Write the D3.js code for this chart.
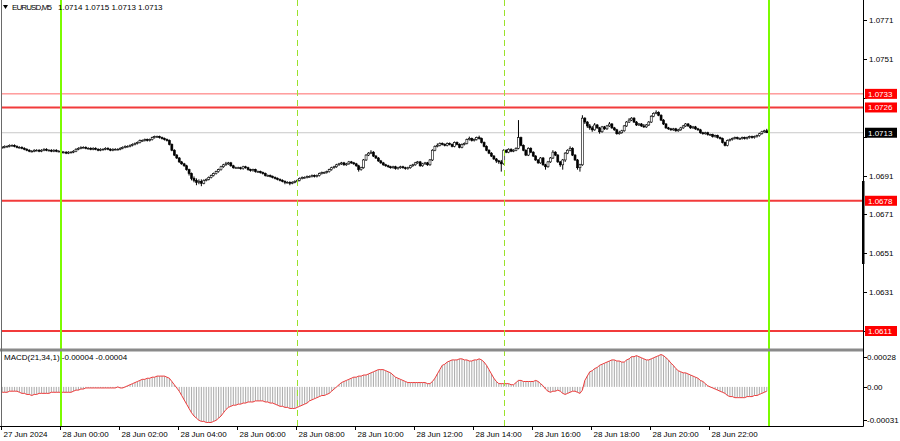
<!DOCTYPE html>
<html><head><meta charset="utf-8">
<script src="https://cdn.jsdelivr.net/npm/d3@7"></script>
<style>html,body{margin:0;padding:0;background:#fff;overflow:hidden}</style>
</head><body><svg id="c" width="900" height="441"></svg>
<script>
// ---------------- DATA ----------------
const symbolTitle = "EURUSD,M5";
const lastOHLC = ["1.0714", "1.0715", "1.0713", "1.0713"];
const macdTitle = "MACD(21,34,1) -0.00004 -0.00004";
const firstOpen = 1.07055;
// M5 candles from 27 Jun 22:00 to 28 Jun 23:55 (open of each bar = previous close)
const closes = [
1.07055,1.07060,1.07060,1.07065,1.07065,1.07060,1.07055,1.07055,1.07050,1.07045,1.07040,1.07035,
1.07035,1.07040,1.07040,1.07035,1.07040,1.07045,1.07040,1.07040,1.07035,1.07040,1.07035,1.07035,
1.07030,1.07030,1.07025,1.07030,1.07030,1.07035,1.07045,1.07050,1.07055,1.07055,1.07050,1.07050,
1.07045,1.07050,1.07045,1.07040,1.07045,1.07045,1.07050,1.07045,1.07040,1.07045,1.07045,1.07045,
1.07050,1.07055,1.07060,1.07060,1.07065,1.07070,1.07075,1.07080,1.07090,1.07090,1.07095,1.07090,
1.07095,1.07105,1.07110,1.07110,1.07105,1.07100,1.07095,1.07090,1.07070,1.07040,1.07015,1.07000,
1.06980,1.06970,1.06960,1.06940,1.06920,1.06895,1.06885,1.06875,1.06880,1.06870,1.06885,1.06890,
1.06900,1.06910,1.06920,1.06930,1.06940,1.06955,1.06965,1.06970,1.06975,1.06960,1.06950,1.06950,
1.06950,1.06945,1.06955,1.06950,1.06940,1.06935,1.06940,1.06930,1.06930,1.06925,1.06920,1.06910,
1.06910,1.06905,1.06900,1.06895,1.06890,1.06885,1.06880,1.06875,1.06875,1.06870,1.06875,1.06880,
1.06885,1.06895,1.06900,1.06900,1.06905,1.06905,1.06910,1.06905,1.06910,1.06920,1.06925,1.06925,
1.06930,1.06940,1.06950,1.06955,1.06965,1.06970,1.06975,1.06965,1.06970,1.06980,1.06975,1.06970,
1.06960,1.06940,1.06950,1.06990,1.07015,1.07025,1.07030,1.07010,1.07000,1.06985,1.06975,1.06965,
1.06960,1.06955,1.06950,1.06955,1.06945,1.06950,1.06955,1.06950,1.06945,1.06950,1.06960,1.06965,
1.06975,1.06980,1.06960,1.06970,1.06975,1.06965,1.06990,1.07040,1.07060,1.07065,1.07075,1.07070,
1.07065,1.07075,1.07070,1.07060,1.07080,1.07070,1.07055,1.07070,1.07075,1.07095,1.07100,1.07090,
1.07095,1.07105,1.07100,1.07080,1.07060,1.07040,1.07025,1.07010,1.06995,1.06985,1.06980,1.06970,
1.07040,1.07030,1.07045,1.07035,1.07040,1.07050,1.07105,1.07065,1.07040,1.07015,1.07050,1.07030,
1.07010,1.06990,1.06975,1.07000,1.06965,1.06955,1.06980,1.07000,1.07030,1.07015,1.06980,1.06965,
1.06990,1.07025,1.07040,1.07050,1.07015,1.06990,1.06950,1.06965,1.07205,1.07185,1.07165,1.07155,
1.07145,1.07170,1.07155,1.07135,1.07160,1.07150,1.07165,1.07175,1.07155,1.07145,1.07125,1.07130,
1.07140,1.07165,1.07185,1.07195,1.07205,1.07185,1.07170,1.07175,1.07165,1.07160,1.07170,1.07185,
1.07215,1.07230,1.07235,1.07220,1.07195,1.07175,1.07155,1.07150,1.07145,1.07150,1.07140,1.07145,
1.07155,1.07165,1.07175,1.07165,1.07155,1.07160,1.07150,1.07145,1.07130,1.07125,1.07130,1.07120,
1.07120,1.07110,1.07115,1.07105,1.07100,1.07080,1.07065,1.07090,1.07095,1.07100,1.07105,1.07100,
1.07100,1.07105,1.07100,1.07105,1.07110,1.07105,1.07110,1.07115,1.07125,1.07135,1.07140,1.07130];
const highs = [
1.07060,1.07065,1.07065,1.07070,1.07070,1.07070,1.07065,1.07060,1.07060,1.07055,1.07050,1.07045,
1.07040,1.07045,1.07045,1.07045,1.07045,1.07050,1.07050,1.07045,1.07045,1.07045,1.07045,1.07040,
1.07040,1.07035,1.07035,1.07035,1.07035,1.07040,1.07050,1.07055,1.07060,1.07060,1.07060,1.07055,
1.07055,1.07055,1.07055,1.07050,1.07050,1.07050,1.07055,1.07055,1.07050,1.07050,1.07050,1.07050,
1.07055,1.07060,1.07065,1.07065,1.07070,1.07075,1.07080,1.07085,1.07095,1.07095,1.07100,1.07100,
1.07100,1.07110,1.07115,1.07115,1.07115,1.07110,1.07105,1.07100,1.07095,1.07075,1.07045,1.07020,
1.07005,1.06985,1.06975,1.06965,1.06945,1.06925,1.06905,1.06895,1.06890,1.06890,1.06890,1.06895,
1.06905,1.06915,1.06925,1.06935,1.06945,1.06960,1.06970,1.06980,1.06980,1.06980,1.06965,1.06955,
1.06955,1.06955,1.06960,1.06960,1.06955,1.06945,1.06945,1.06945,1.06935,1.06935,1.06930,1.06925,
1.06915,1.06915,1.06910,1.06905,1.06900,1.06895,1.06890,1.06885,1.06880,1.06880,1.06880,1.06885,
1.06890,1.06900,1.06905,1.06905,1.06910,1.06910,1.06915,1.06915,1.06915,1.06925,1.06930,1.06930,
1.06935,1.06945,1.06955,1.06960,1.06970,1.06975,1.06980,1.06980,1.06975,1.06985,1.06985,1.06980,
1.06975,1.06965,1.06955,1.06995,1.07020,1.07030,1.07040,1.07035,1.07015,1.07005,1.06990,1.06980,
1.06970,1.06965,1.06960,1.06960,1.06960,1.06955,1.06960,1.06960,1.06955,1.06955,1.06965,1.06970,
1.06980,1.06985,1.06985,1.06975,1.06980,1.06980,1.06995,1.07045,1.07065,1.07075,1.07080,1.07080,
1.07075,1.07080,1.07080,1.07075,1.07085,1.07085,1.07075,1.07075,1.07080,1.07100,1.07110,1.07105,
1.07100,1.07110,1.07115,1.07105,1.07085,1.07065,1.07045,1.07030,1.07015,1.07000,1.06990,1.06990,
1.07045,1.07045,1.07050,1.07050,1.07045,1.07055,1.07195,1.07110,1.07070,1.07045,1.07055,1.07055,
1.07035,1.07015,1.06995,1.07005,1.07005,1.06970,1.06985,1.07005,1.07040,1.07035,1.07020,1.06985,
1.06995,1.07030,1.07045,1.07060,1.07055,1.07020,1.06995,1.06970,1.07220,1.07210,1.07190,1.07175,
1.07165,1.07180,1.07175,1.07160,1.07165,1.07165,1.07170,1.07185,1.07180,1.07160,1.07150,1.07140,
1.07145,1.07170,1.07190,1.07205,1.07210,1.07210,1.07190,1.07180,1.07180,1.07175,1.07175,1.07190,
1.07220,1.07235,1.07245,1.07240,1.07225,1.07200,1.07180,1.07160,1.07155,1.07155,1.07155,1.07150,
1.07160,1.07170,1.07180,1.07180,1.07170,1.07165,1.07165,1.07155,1.07150,1.07135,1.07135,1.07135,
1.07125,1.07125,1.07120,1.07120,1.07110,1.07105,1.07085,1.07095,1.07100,1.07105,1.07110,1.07110,
1.07105,1.07110,1.07110,1.07110,1.07115,1.07115,1.07115,1.07120,1.07130,1.07140,1.07145,1.07150];
const lows = [
1.07050,1.07050,1.07055,1.07055,1.07060,1.07055,1.07050,1.07050,1.07045,1.07040,1.07035,1.07030,
1.07030,1.07030,1.07035,1.07030,1.07030,1.07035,1.07035,1.07035,1.07030,1.07030,1.07030,1.07030,
1.07025,1.07025,1.07020,1.07020,1.07025,1.07025,1.07030,1.07040,1.07045,1.07050,1.07045,1.07045,
1.07040,1.07040,1.07040,1.07035,1.07035,1.07040,1.07040,1.07040,1.07035,1.07035,1.07040,1.07040,
1.07040,1.07045,1.07050,1.07055,1.07055,1.07060,1.07065,1.07070,1.07075,1.07085,1.07085,1.07085,
1.07085,1.07090,1.07100,1.07105,1.07100,1.07095,1.07090,1.07085,1.07065,1.07035,1.07010,1.06995,
1.06975,1.06965,1.06955,1.06935,1.06910,1.06885,1.06875,1.06860,1.06865,1.06855,1.06865,1.06880,
1.06885,1.06895,1.06905,1.06915,1.06925,1.06935,1.06950,1.06960,1.06965,1.06955,1.06945,1.06945,
1.06945,1.06940,1.06940,1.06945,1.06935,1.06930,1.06930,1.06925,1.06925,1.06920,1.06915,1.06905,
1.06905,1.06900,1.06895,1.06890,1.06885,1.06880,1.06875,1.06865,1.06870,1.06860,1.06865,1.06870,
1.06875,1.06880,1.06890,1.06895,1.06895,1.06900,1.06900,1.06900,1.06900,1.06905,1.06915,1.06920,
1.06920,1.06925,1.06935,1.06945,1.06950,1.06960,1.06965,1.06960,1.06960,1.06965,1.06970,1.06965,
1.06955,1.06930,1.06935,1.06945,1.06985,1.07010,1.07020,1.07005,1.06995,1.06980,1.06970,1.06960,
1.06955,1.06950,1.06945,1.06945,1.06940,1.06940,1.06945,1.06945,1.06940,1.06940,1.06945,1.06955,
1.06960,1.06970,1.06955,1.06955,1.06965,1.06960,1.06960,1.06985,1.07035,1.07055,1.07060,1.07065,
1.07060,1.07060,1.07065,1.07055,1.07055,1.07065,1.07050,1.07050,1.07065,1.07070,1.07090,1.07085,
1.07085,1.07090,1.07095,1.07075,1.07055,1.07035,1.07020,1.07005,1.06990,1.06975,1.06970,1.06930,
1.06965,1.07025,1.07025,1.07030,1.07030,1.07035,1.07045,1.07060,1.07035,1.07010,1.07010,1.07025,
1.07005,1.06985,1.06970,1.06970,1.06960,1.06940,1.06950,1.06975,1.06995,1.07010,1.06975,1.06955,
1.06940,1.06980,1.07020,1.07035,1.07010,1.06985,1.06940,1.06930,1.06960,1.07175,1.07155,1.07145,
1.07135,1.07140,1.07150,1.07125,1.07130,1.07145,1.07145,1.07160,1.07150,1.07140,1.07120,1.07120,
1.07125,1.07135,1.07160,1.07180,1.07190,1.07180,1.07165,1.07165,1.07160,1.07155,1.07155,1.07165,
1.07180,1.07210,1.07225,1.07215,1.07190,1.07170,1.07150,1.07145,1.07140,1.07140,1.07135,1.07135,
1.07140,1.07150,1.07160,1.07160,1.07150,1.07150,1.07145,1.07140,1.07125,1.07120,1.07120,1.07115,
1.07115,1.07105,1.07105,1.07100,1.07095,1.07075,1.07060,1.07060,1.07085,1.07090,1.07095,1.07095,
1.07095,1.07095,1.07095,1.07095,1.07100,1.07100,1.07100,1.07105,1.07110,1.07120,1.07130,1.07130];
// MACD(21,34,1) main value per bar (signal with period 1 equals main)
const macdValues = [
-5e-5,-5e-5,-5e-5,-4e-5,-4e-5,-4e-5,-4e-5,-5e-5,-6e-5,-6e-5,-7e-5,-7e-5,
-8e-5,-7e-5,-7e-5,-6e-5,-6e-5,-6e-5,-6e-5,-6e-5,-5e-5,-5e-5,-5e-5,-5e-5,
-5e-5,-5e-5,-5e-5,-5e-5,-5e-5,-4e-5,-3e-5,-3e-5,-2e-5,-2e-5,-1e-5,-1e-5,
-1e-5,-1e-5,-1e-5,-1e-5,-1e-5,-1e-5,-1e-5,-1e-5,-1e-5,-1e-5,-1e-5,0,
-1e-5,-1e-5,0,1e-5,2e-5,3e-5,4e-5,5e-5,6e-5,7e-5,7e-5,8e-5,
8e-5,9e-5,9e-5,10e-5,10e-5,10e-5,10e-5,9e-5,8e-5,5e-5,2e-5,-1e-5,
-4e-5,-8e-5,-12e-5,-16e-5,-20e-5,-24e-5,-27e-5,-29e-5,-31e-5,-32e-5,-32e-5,-33e-5,
-33e-5,-33e-5,-32e-5,-31e-5,-29e-5,-27e-5,-24e-5,-21e-5,-19e-5,-18e-5,-17e-5,-17e-5,
-16e-5,-16e-5,-15e-5,-15e-5,-14e-5,-14e-5,-14e-5,-13e-5,-13e-5,-13e-5,-13e-5,-14e-5,
-14e-5,-15e-5,-15e-5,-16e-5,-17e-5,-18e-5,-18e-5,-19e-5,-19e-5,-20e-5,-20e-5,-20e-5,
-19e-5,-18e-5,-17e-5,-16e-5,-15e-5,-13e-5,-12e-5,-11e-5,-10e-5,-9e-5,-8e-5,-8e-5,
-7e-5,-6e-5,-4e-5,-2e-5,0,2e-5,4e-5,5e-5,6e-5,7e-5,8e-5,9e-5,
9e-5,10e-5,10e-5,11e-5,11e-5,12e-5,13e-5,14e-5,15e-5,16e-5,16e-5,16e-5,
15e-5,14e-5,13e-5,11e-5,9e-5,8e-5,7e-5,6e-5,5e-5,4e-5,4e-5,4e-5,
4e-5,4e-5,4e-5,4e-5,4e-5,3e-5,3e-5,5e-5,8e-5,12e-5,16e-5,20e-5,
21e-5,23e-5,24e-5,25e-5,25e-5,25e-5,26e-5,26e-5,25e-5,25e-5,24e-5,24e-5,
25e-5,25e-5,26e-5,25e-5,23e-5,20e-5,16e-5,12e-5,8e-5,5e-5,3e-5,3e-5,
3e-5,3e-5,3e-5,2e-5,2e-5,4e-5,6e-5,6e-5,5e-5,5e-5,5e-5,5e-5,
5e-5,6e-5,5e-5,3e-5,1e-5,-2e-5,-4e-5,-5e-5,-4e-5,-4e-5,-3e-5,-4e-5,
-6e-5,-7e-5,-6e-5,-5e-5,-4e-5,-4e-5,-5e-5,-6e-5,-3e-5,6e-5,10e-5,14e-5,
15e-5,17e-5,18e-5,20e-5,21e-5,22e-5,23e-5,24e-5,25e-5,25e-5,24e-5,24e-5,
23e-5,23e-5,25e-5,26e-5,28e-5,28e-5,29e-5,28e-5,27e-5,26e-5,25e-5,25e-5,
26e-5,27e-5,28e-5,29e-5,30e-5,29e-5,27e-5,25e-5,22e-5,20e-5,17e-5,15e-5,
14e-5,13e-5,13e-5,12e-5,11e-5,10e-5,9e-5,8e-5,6e-5,5e-5,3e-5,1e-5,
0,-1e-5,-2e-5,-3e-5,-4e-5,-5e-5,-6e-5,-8e-5,-9e-5,-9e-5,-10e-5,-10e-5,
-10e-5,-10e-5,-10e-5,-9e-5,-9e-5,-9e-5,-8e-5,-8e-5,-7e-5,-6e-5,-5e-5,-4e-5];

const priceTicks = [1.0771, 1.0751, 1.0731, 1.0711, 1.0691, 1.0671, 1.0651, 1.0631, 1.0611];
const levelValues = [1.0733, 1.0726, 1.0678, 1.0611];
const currentPrice = 1.0713;
const macdTicks = [0.00028, 0, -0.00031];
const macdTickLabels = ["0.00028", "0.00", "-0.00031"];
const timeTicks = ["2024-06-27T22:00","2024-06-28T00:00","2024-06-28T02:00","2024-06-28T04:00","2024-06-28T06:00","2024-06-28T08:00","2024-06-28T10:00","2024-06-28T12:00","2024-06-28T14:00","2024-06-28T16:00","2024-06-28T18:00","2024-06-28T20:00","2024-06-28T22:00"];
const timeLabels = ["27 Jun 2024","28 Jun 00:00","28 Jun 02:00","28 Jun 04:00","28 Jun 06:00","28 Jun 08:00","28 Jun 10:00","28 Jun 12:00","28 Jun 14:00","28 Jun 16:00","28 Jun 18:00","28 Jun 20:00","28 Jun 22:00"];
const solidVLines = ["2024-06-28T00:00", "2024-06-29T00:00"];
const dashedVLines = ["2024-06-28T08:00", "2024-06-28T15:00"];

// ---------------- DRAW ----------------
const svg = d3.select("#c");
const FONT = "'Liberation Sans', Arial, sans-serif";
const W = 900, AXIS_X = 863, MAIN_BOTTOM = 348, MACD_TOP = 352, MACD_BOTTOM = 426;
const parse = s => new Date(s + ":00");
const t0 = parse("2024-06-27T22:00"), t1 = parse("2024-06-29T00:00");
const x = d3.scaleTime().domain([t0, t1]).range([1, 768]);
const barW = (x(t1) - x(t0)) / closes.length;
const barTime = i => new Date(t0.getTime() + i * 5 * 60000);
const cx = i => x(barTime(i)) + barW / 2;
const y = d3.scaleLinear().domain([1.0611, 1.0771]).range([331, 20]);
const ym = d3.scaleLinear().domain([-0.00031, 0.00028]).range([420.3, 356.7]);

const candles = closes.map((c, i) => ({
  o: i === 0 ? firstOpen : closes[i - 1], c, h: highs[i], l: lows[i], i
}));

svg.append("rect").attr("width", W).attr("height", 441).attr("fill", "#fff");

const defs = svg.append("defs");
defs.append("clipPath").attr("id", "mainClip").append("rect")
  .attr("x", 1).attr("y", 0).attr("width", AXIS_X - 1).attr("height", MAIN_BOTTOM);
defs.append("clipPath").attr("id", "macdClip").append("rect")
  .attr("x", 1).attr("y", MACD_TOP).attr("width", AXIS_X - 1).attr("height", MACD_BOTTOM - MACD_TOP);

const main = svg.append("g").attr("clip-path", "url(#mainClip)");
// current price line
main.append("line").attr("x1", 0).attr("x2", AXIS_X).attr("y1", y(currentPrice)).attr("y2", y(currentPrice))
  .attr("stroke", "#c8c8c8").attr("stroke-width", 1);
// level lines
const levelWidths = [1, 2, 2, 2];
const levelColors = ["#ff6a6a", "#f23b3b", "#f23b3b", "#f23b3b"];
levelValues.forEach((v, k) => {
  main.append("line").attr("x1", 0).attr("x2", AXIS_X).attr("y1", y(v)).attr("y2", y(v))
    .attr("stroke", levelColors[k]).attr("stroke-width", levelWidths[k]);
});
// candles
const cg = main.append("g");
cg.selectAll("line.w").data(candles).join("line")
  .attr("x1", d => cx(d.i)).attr("x2", d => cx(d.i))
  .attr("y1", d => y(d.h)).attr("y2", d => y(d.l))
  .attr("stroke", "#000").attr("stroke-width", 1);
cg.selectAll("rect.b").data(candles).join("rect")
  .attr("x", d => cx(d.i) - 1).attr("width", 2)
  .attr("y", d => y(Math.max(d.o, d.c)))
  .attr("height", d => Math.max(0.8, Math.abs(y(d.o) - y(d.c))))
  .attr("fill", d => d.c >= d.o ? "#fff" : "#000")
  .attr("stroke", "#000").attr("stroke-width", 0.6);

// MACD panel
const mg = svg.append("g").attr("clip-path", "url(#macdClip)");
mg.selectAll("rect").data(macdValues).join("rect")
  .attr("x", (d, i) => cx(i) - 0.55).attr("width", 1.1)
  .attr("y", d => Math.min(ym(d), ym(0)))
  .attr("height", d => Math.max(0.5, Math.abs(ym(d) - ym(0))))
  .attr("fill", "#b0b0b0");
mg.append("path").datum(macdValues)
  .attr("d", d3.line().x((d, i) => cx(i)).y(d => ym(d)))
  .attr("fill", "none").attr("stroke", "#ee3b3b").attr("stroke-width", 1);

// vertical lines
solidVLines.forEach(s => {
  const xx = Math.round(x(parse(s)) + barW / 2);
  svg.append("line").attr("x1", xx).attr("x2", xx).attr("y1", 0).attr("y2", MACD_BOTTOM)
    .attr("stroke", "#7cfc00").attr("stroke-width", 2);
});
dashedVLines.forEach(s => {
  const xx = Math.round(x(parse(s)) + barW / 2) + 0.5;
  svg.append("line").attr("x1", xx).attr("x2", xx).attr("y1", 0).attr("y2", MACD_BOTTOM)
    .attr("stroke", "#9be22d").attr("stroke-width", 1).attr("stroke-dasharray", "6,4");
});

// separator and frame
svg.append("rect").attr("x", 0).attr("y", MAIN_BOTTOM + 0.5).attr("width", AXIS_X).attr("height", 3).attr("fill", "#8a8a8a");
svg.append("line").attr("x1", 1.5).attr("x2", 1.5).attr("y1", 0).attr("y2", MACD_BOTTOM).attr("stroke", "#6a6a6a");
svg.append("line").attr("x1", AXIS_X + 0.5).attr("x2", AXIS_X + 0.5).attr("y1", 0).attr("y2", MACD_BOTTOM + 0.5).attr("stroke", "#000");
svg.append("line").attr("x1", 0).attr("x2", AXIS_X + 0.5).attr("y1", MACD_BOTTOM + 0.5).attr("y2", MACD_BOTTOM + 0.5).attr("stroke", "#000");
svg.append("rect").attr("x", AXIS_X - 1).attr("y", 181).attr("width", 2.5).attr("height", 83).attr("fill", "#000");

// right price axis
const pa = svg.append("g").attr("font-family", FONT).attr("font-size", 8);
const tagValues = levelValues.concat([currentPrice]);
priceTicks.forEach(v => {
  pa.append("line").attr("x1", AXIS_X).attr("x2", AXIS_X + 4).attr("y1", Math.round(y(v)) + 0.5).attr("y2", Math.round(y(v)) + 0.5).attr("stroke", "#000");
  const covered = tagValues.some(t => Math.abs(y(t) - y(v)) < 9);
  if (!covered) pa.append("text").attr("x", 869).attr("y", y(v) + 3).attr("fill", "#000").text(v.toFixed(4));
});
// level labels
const tags = levelValues.map(v => ({ v, bg: "#ff0000" })).concat([{ v: currentPrice, bg: "#000" }]);
tags.forEach(t => {
  pa.append("rect").attr("x", 865).attr("y", y(t.v) - 5).attr("width", 32).attr("height", 10).attr("fill", t.bg);
  pa.append("text").attr("x", 868).attr("y", y(t.v) + 3).attr("fill", "#fff").text(t.v.toFixed(4));
});
// MACD axis
macdTicks.forEach((v, k) => {
  pa.append("line").attr("x1", AXIS_X).attr("x2", AXIS_X + 4).attr("y1", Math.round(ym(v)) + 0.5).attr("y2", Math.round(ym(v)) + 0.5).attr("stroke", "#000");
  pa.append("text").attr("x", 867).attr("y", ym(v) + 3).attr("fill", "#000").text(macdTickLabels[k]);
});

// time axis
const ta = svg.append("g").attr("font-family", FONT).attr("font-size", 8);
timeTicks.forEach((s, k) => {
  const xx = Math.round(x(parse(s))) + 0.5;
  ta.append("line").attr("x1", xx).attr("x2", xx).attr("y1", MACD_BOTTOM).attr("y2", MACD_BOTTOM + 4).attr("stroke", "#000");
  ta.append("text").attr("x", xx + 2).attr("y", 437).attr("fill", "#000").text(timeLabels[k]);
});

// header
const hd = svg.append("g").attr("font-family", FONT).attr("font-size", 8).attr("fill", "#000");
hd.append("path").attr("d", "M3,5 L8,5 L5.5,9 Z").attr("fill", "#000");
hd.append("text").attr("x", 12).attr("y", 10).attr("textLength", 40).text(symbolTitle);
hd.append("text").attr("x", 58).attr("y", 10).text(lastOHLC.join(" "));
hd.append("text").attr("x", 4).attr("y", 360).text(macdTitle);
</script></body></html>
